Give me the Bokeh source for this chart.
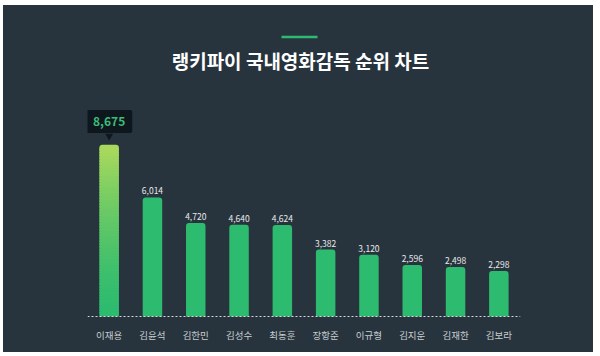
from bokeh.plotting import figure
from bokeh.models import FactorRange, Range1d, Span, Label
from bokeh.core.properties import value
from bokeh.embed import file_html
from bokeh.resources import INLINE

# ---- data ----
title_text = "랭키파이 국내영화감독 순위 차트"
directors = ["이재용", "김윤석", "김한민", "김성수", "최동훈", "장항준", "이규형", "김지운", "김재한", "김보라"]
scores = [8675, 6014, 4720, 4640, 4624, 3382, 3120, 2596, 2498, 2298]
score_labels = [f"{v:,}" for v in scores]

# ---- style ----
FONT = "Noto Sans CJK KR"
BG = "#27343e"
GREEN = "#2dbb6f"
LIME = "#a8d85c"
OX, OY = 3, 5  # panel offset on page
FIG_W, FIG_H = 590, 347
LEFT = 87 - OX
RIGHT = FIG_W - (520 - OX)
BASE = 316 - OY  # pixel row of the zero line within the figure
BOTTOM = FIG_H - BASE - 1
FRAME_W = FIG_W - LEFT - RIGHT
FRAME_H = FIG_H - BOTTOM
PPU = 171.7 / 8675.0  # pixels per unit
Y_START = -(FRAME_H - BASE) / PPU
Y_END = BASE / PPU
n = len(directors)


def ydat(py):  # page pixel row -> data y
    return (BASE - (py - OY)) / PPU


def xdat(px):  # page pixel column -> synthetic x
    return (px - OX - LEFT) / (FRAME_W / n)


p = figure(width=FIG_W, height=FIG_H, output_backend="svg", toolbar_location=None,
           x_range=FactorRange(factors=directors, range_padding=0, factor_padding=0),
           y_range=Range1d(Y_START, Y_END),
           min_border_left=LEFT, min_border_right=RIGHT, min_border_bottom=BOTTOM,
           min_border_top=0)
p.background_fill_color = None
p.border_fill_color = None
p.styles = {"background-color": BG, "margin-left": f"{OX}px", "margin-top": f"{OY}px"}
p.outline_line_color = None
p.grid.visible = False
p.yaxis.visible = False

ax = p.xaxis[0]
ax.axis_line_color = None
ax.major_tick_line_color = None
ax.minor_tick_line_color = None
ax.major_label_text_font = FONT
ax.major_label_text_font_size = "9.5px"
ax.major_label_text_color = "#c8cdd0"
ax.major_label_standoff = 4

imax = max(range(n), key=lambda i: scores[i])
others = [i for i in range(n) if i != imax]

# regular bars
p.vbar(x=[directors[i] for i in others], top=[scores[i] for i in others], width=0.45,
       fill_color=GREEN, line_color=None, border_radius=(3, 3, 0, 0))

# gradient bar (top bar) built from slices of its value
N = 60
def mix(c1, c2, t):
    a = [int(c1[k:k + 2], 16) for k in (1, 3, 5)]
    b = [int(c2[k:k + 2], 16) for k in (1, 3, 5)]
    return "#" + "".join(f"{round(a[j] + (b[j] - a[j]) * t):02x}" for j in range(3))

vmax = scores[imax]
bots = [vmax * k / N for k in range(N - 1)]
tops = [min(vmax * (k + 1.6) / N, vmax * (N - 1) / N) for k in range(N - 1)]
cols = [mix(GREEN, LIME, min(1.0, ((k + 0.5) / N) ** 1.5 * 1.05)) for k in range(N - 1)]
p.vbar(x=[directors[imax]] * (N - 1), bottom=bots, top=tops, width=0.45,
       fill_color=cols, line_color=None)
p.vbar(x=[directors[imax]], bottom=[vmax * (N - 1.3) / N], top=[vmax], width=0.45,
       fill_color=LIME, line_color=None, border_radius=(3, 3, 0, 0))

# baseline
p.add_layout(Span(location=0, dimension="width", line_color="#d4d8da",
                  line_dash="2 2", line_width=1))

# value labels
p.text(x=[directors[i] for i in others], y=[scores[i] for i in others],
       text=[score_labels[i] for i in others], text_align="center",
       text_baseline="bottom", y_offset=-3, text_font=value(FONT),
       text_font_size="8.5px", text_color="#e8eaeb")

# tooltip on top bar
p.scatter(x=[directors[imax]], y=[vmax + 8.8 / PPU], marker="inverted_triangle",
          size=8, fill_color="#0e171d", line_color=None)
p.add_layout(Label(x=imax + 0.5, y=vmax + 23.3 / PPU, text=score_labels[imax],
                   text_align="center", text_baseline="middle", text_font=FONT,
                   text_font_size="12px", text_font_style="bold", text_color="#3dbb78",
                   background_fill_color="#0e171d", padding=7, border_radius=2))

# title and accent line
p.segment(x0=[xdat(281)], x1=[xdat(317)], y0=[ydat(36.5)], y1=[ydat(36.5)],
          line_color=GREEN, line_width=2.5)
p.add_layout(Label(x=xdat(300), y=ydat(60), text=title_text, text_align="center",
                   text_baseline="middle", text_font=FONT, text_font_size="19px",
                   text_font_style="bold", text_color="#ffffff"))

open("out.html", "w").write(file_html(p, INLINE))
